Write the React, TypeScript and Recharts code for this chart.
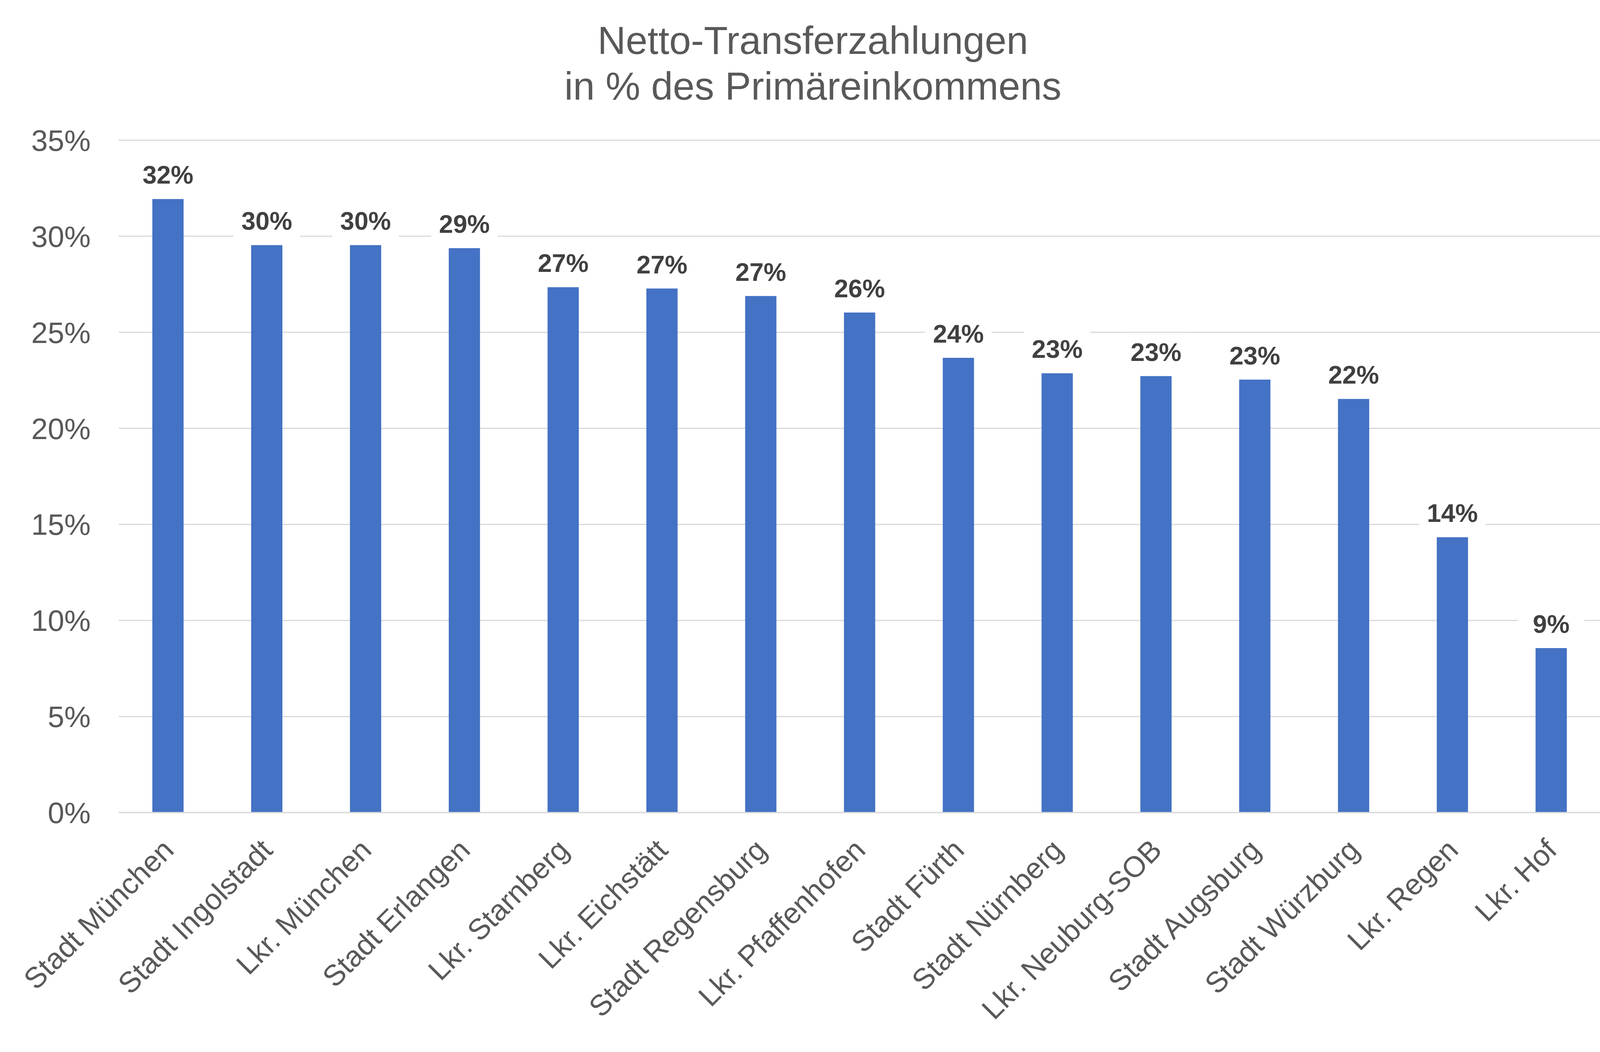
import { BarChart, Bar, XAxis, YAxis, CartesianGrid, LabelList } from 'recharts';

const categories = [
  'Stadt München',
  'Stadt Ingolstadt',
  'Lkr. München',
  'Stadt Erlangen',
  'Lkr. Starnberg',
  'Lkr. Eichstätt',
  'Stadt Regensburg',
  'Lkr. Pfaffenhofen',
  'Stadt Fürth',
  'Stadt Nürnberg',
  'Lkr. Neuburg-SOB',
  'Stadt Augsburg',
  'Stadt Würzburg',
  'Lkr. Regen',
  'Lkr. Hof',
];

// Netto-Transferzahlungen in % des Primäreinkommens
const values = [31.94, 29.54, 29.54, 29.38, 27.35, 27.28, 26.89, 26.03, 23.67, 22.87, 22.72, 22.54, 21.53, 14.33, 8.56];

const yTicks = [0, 5, 10, 15, 20, 25, 30, 35];

const titleLines = ['Netto-Transferzahlungen', 'in % des Primäreinkommens'];

const FONT = '"Liberation Sans", Arial, sans-serif';
const W = 4162;
const H = 2693;

const data = categories.map((name, i) => ({ name, value: values[i] }));

function CategoryTick(props: any) {
  const { x, y, payload } = props;
  const ax = x;
  const ay = y + 82;
  return (
    <text
      x={ax}
      y={ay}
      dy="0.35em"
      textAnchor="end"
      transform={`rotate(-45, ${ax}, ${ay})`}
      fontSize={75}
      fontFamily={FONT}
      fill="#595959"
    >
      {payload.value}
    </text>
  );
}

function ValueLabel(props: any) {
  const { x, y, width, value } = props;
  const cx = Number(x) + Number(width) / 2;
  const base = Number(y) - 39;
  return (
    <g>
      <rect x={cx - 85} y={base - 72} width={170} height={92} fill="#ffffff" />
      <text
        x={cx}
        y={base}
        textAnchor="middle"
        fontSize={65}
        fontWeight="bold"
        fontFamily={FONT}
        fill="#404040"
      >
        {`${Math.round(Number(value))}%`}
      </text>
    </g>
  );
}

export default function App() {
  return (
    <div style={{ position: 'absolute', left: 0, top: 0, width: W, height: H, background: '#ffffff' }}>
      <BarChart width={W} height={H} data={data} margin={{ top: 359, right: 64, left: 0, bottom: 0 }}>
        <CartesianGrid vertical={false} stroke="#D9D9D9" strokeWidth={3} />
        <XAxis
          dataKey="name"
          interval={0}
          height={613}
          axisLine={{ stroke: '#D9D9D9', strokeWidth: 3 }}
          tickLine={false}
          tickSize={0}
          tickMargin={0}
          tick={<CategoryTick />}
        />
        <YAxis
          width={304}
          domain={[0, 35]}
          ticks={yTicks}
          axisLine={false}
          tickLine={false}
          tickSize={0}
          tickMargin={72}
          tickFormatter={(v: number) => `${v}%`}
          tick={{ fontSize: 76, fill: '#595959', fontFamily: FONT }}
        />
        <Bar dataKey="value" fill="#4472C4" barSize={80} isAnimationActive={false}>
          <LabelList dataKey="value" content={<ValueLabel />} />
        </Bar>
      </BarChart>
      <svg
        width={W}
        height={300}
        style={{ position: 'absolute', left: 0, top: 0, pointerEvents: 'none' }}
      >
        {titleLines.map((line, i) => (
          <text
            key={line}
            x={W / 2}
            y={138 + i * 117}
            textAnchor="middle"
            fontSize={100}
            fontFamily={FONT}
            fill="#595959"
          >
            {line}
          </text>
        ))}
      </svg>
    </div>
  );
}
